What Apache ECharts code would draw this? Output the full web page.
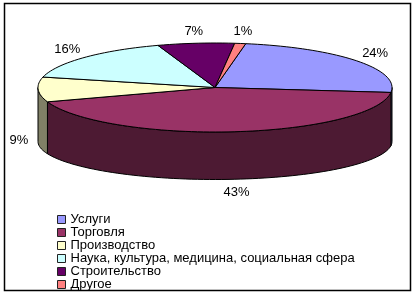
<!DOCTYPE html>
<html><head><meta charset="utf-8">
<script src="https://cdn.jsdelivr.net/npm/echarts@6/dist/echarts.min.js"></script>
<style>html,body{margin:0;padding:0;background:#fff}#c{width:416px;height:296px}</style>
</head><body><div id="c"></div>
<script>
const categories = ['Услуги','Торговля','Производство','Наука, культура, медицина, социальная сфера','Строительство','Другое'];
const values = [24, 43, 9, 16, 7, 1];
const topColors = ['#9999FF','#993366','#FFFFCC','#CCFFFF','#660066','#FF8080'];
const sideColors = ['#4D4D80','#4D1A33','#808066','#668080','#330033','#804040'];

const total = values.reduce((a,b)=>a+b,0);
const startDeg = 10;
const geo = {cx:215, cy:87.5, rx:177, ry:44.5, depth:54, ryb:38};
const FONT = '"Liberation Sans", Arial, sans-serif';
const starts = []; let acc = startDeg;
values.forEach(v => { starts.push(acc); acc += v/total*360; });

const mctx = document.createElement('canvas').getContext('2d');
mctx.font = '13px ' + FONT;

function pt(deg, bottom){
  const t = deg*Math.PI/180;
  return [geo.cx + geo.rx*Math.sin(t), bottom ? geo.cy+geo.depth - geo.ryb*Math.cos(t) : geo.cy - geo.ry*Math.cos(t)];
}
function arc(a,b,bottom){
  const n = Math.max(2, Math.ceil(Math.abs(b-a)/2));
  const pts=[];
  for(let i=0;i<=n;i++) pts.push(pt(a+(b-a)*i/n,bottom));
  return pts;
}

function makeSeries(i){
  return {
    type:'custom', name:categories[i], coordinateSystem:'none',
    data:[values[i]],
    itemStyle:{color:topColors[i], borderColor:'#000', borderWidth:1},
    renderItem:function(params, api){
      const v = api.value(0);
      const a = starts[i], b = a + v/total*360;
      const children = [];
      [[90,270],[450,630]].forEach(([lo,hi])=>{
        const s=Math.max(a,lo), e=Math.min(b,hi);
        if(e>s){
          const pts = arc(s,e,false).concat(arc(e,s,true));
          children.push({type:'polygon', shape:{points:pts}, style:{fill:sideColors[i], stroke:'#000', lineWidth:1}});
        }
      });
      const top = [[geo.cx,geo.cy]].concat(arc(a,b,false));
      children.push({type:'polygon', shape:{points:top}, style:{fill:topColors[i], stroke:'#000', lineWidth:1}});
      const label = Math.round(v/total*100)+'%';
      const w = mctx.measureText(label).width;
      const m = (a+b)/2, t = m*Math.PI/180;
      const c = Math.cos(t), s = Math.sin(t);
      const lx = geo.cx + (geo.rx+10)*s + (w/2)*s;
      const ly = (c<0 ? geo.cy+geo.depth - (geo.ryb+17)*c - 4 : geo.cy - (geo.ry+12)*c);
      children.push({type:'text', style:{text: label, x:lx, y:ly, align:'center', verticalAlign:'middle', font:'13px '+FONT, fill:'#000'}});
      return {type:'group', children};
    }
  };
}

const chart = echarts.init(document.getElementById('c'), null, {renderer:'canvas'});
chart.setOption({
  animation:false,
  backgroundColor:'#fff',
  graphic:[{type:'rect', shape:{x:4.5,y:3.5,width:406,height:287}, style:{fill:'none', stroke:'#000', lineWidth:1.5}, z:-1}],
  legend:{
    data:categories, orient:'vertical', left:57, top:213, height:84, padding:0,
    itemWidth:8, itemHeight:8, itemGap:0, icon:'rect',
    itemStyle:{borderColor:'#222', borderWidth:1},
    textStyle:{fontSize:13, fontFamily:FONT, color:'#000', lineHeight:13},
    selectedMode:false
  },
  series: categories.map((_,i)=>makeSeries(i))
});
</script></body></html>
